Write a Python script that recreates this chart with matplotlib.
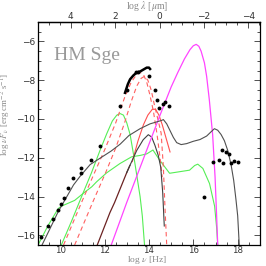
import numpy as np
import matplotlib
matplotlib.use('Agg')
import matplotlib.pyplot as plt
from matplotlib.ticker import MultipleLocator, FixedLocator, FuncFormatter

plt.rcParams['mathtext.fontset'] = 'stix'

# observed points (log nu [Hz], log nuFnu)
obs_nu = [9.14, 9.44, 9.69, 9.89, 10.02, 10.16, 10.35, 10.56, 10.94, 10.94, 11.37, 11.79,
          12.69, 13.02, 13.41, 13.52, 14.01, 14.27, 14.36, 14.46, 14.62, 14.72, 14.9,
          16.5, 16.88, 17.17, 17.29, 17.35, 17.47, 17.59, 17.69, 17.82, 18.01]
obs_f = [-16.09, -15.54, -15.14, -14.69, -14.38, -14.1, -13.55, -13.05, -12.78, -12.54, -12.14, -11.4,
         -9.34, -8.52, -7.57, -7.55, -7.8, -8.48, -9.0, -9.45, -9.22, -9.1, -9.35,
         -14.0, -12.23, -12.1, -11.62, -12.26, -11.71, -11.79, -12.28, -12.17, -12.23]

# thick observed near-IR spectrum
spec_nu = [12.92, 13.05, 13.15, 13.3, 13.45, 13.6, 13.75, 13.9, 14.0, 14.05]
spec_f = [-8.65, -8.2, -7.95, -7.75, -7.6, -7.55, -7.45, -7.35, -7.35, -7.42]

# total model
tot_nu = [9.18, 9.5, 9.9, 10.3, 10.6, 10.9, 11.35, 11.8, 12.3, 12.7, 13.1, 13.6, 14.05, 14.35,
          14.55, 14.65, 14.8, 14.95, 15.1, 15.25, 15.45, 15.7, 16.0, 16.3, 16.6, 16.8, 16.95,
          17.1, 17.25, 17.4, 17.55, 17.7, 17.82, 17.92, 18.0, 18.07]
tot_f = [-16.5, -15.75, -14.8, -14.0, -13.4, -12.95, -12.35, -12.02, -11.65, -11.3, -10.85, -10.5,
         -10.25, -10.15, -10.08, -10.03, -10.25, -10.6, -10.95, -11.22, -11.32, -11.27, -11.15,
         -11.06, -10.88, -10.66, -10.5, -10.58, -10.8, -11.12, -11.62, -12.35, -13.17, -14.14,
         -15.0, -16.5]

# hot component (magenta)
hot_nu = [12.3, 13.0, 13.5, 14.0, 14.5, 15.0, 15.3, 15.6, 15.85, 16.0, 16.13, 16.25, 16.35,
          16.5, 16.6, 16.72, 16.87, 16.98, 17.05, 17.1]
hot_f = [-16.5, -14.3, -12.8, -11.3, -9.8, -8.35, -7.6, -6.9, -6.42, -6.22, -6.15, -6.25, -6.5,
         -7.1, -7.8, -9.0, -10.8, -13.0, -15.0, -16.5]

# cool giant (brown rise, dark fall)
giant_nu = [11.67, 12.24, 12.45, 13.0, 13.14]
giant_f = [-16.5, -14.83, -14.31, -12.76, -12.4]
giant2_nu = [13.0, 13.14, 13.45, 13.74, 13.97, 14.12, 14.27, 14.42, 14.53, 14.62, 14.69]
giant2_f = [-12.76, -12.4, -11.62, -11.07, -10.81, -10.93, -11.36, -11.88, -12.49, -13.8, -15.52]

# dust shells (red dashed)
dustA_nu = [10.15, 11.0, 11.55, 12.0, 12.5, 12.9, 13.2, 13.45, 13.6, 13.75, 13.9, 14.05,
            14.2, 14.36, 14.5, 14.6]
dustA_f = [-16.5, -14.2, -12.76, -11.6, -10.2, -8.9, -8.1, -7.7, -7.6, -7.7, -8.1, -8.8,
           -9.6, -10.76, -12.0, -13.0]
dustB_nu = [10.65, 11.5, 12.05, 12.5, 12.9, 13.2, 13.45, 13.65, 13.8, 13.95, 14.1, 14.25,
            14.4, 14.55, 14.65, 14.72, 14.8]
dustB_f = [-16.5, -14.2, -12.76, -11.5, -10.2, -9.1, -8.3, -7.9, -7.8, -8.0, -8.5, -9.3,
           -10.0, -10.74, -12.5, -14.5, -16.5]

# red solid component
red_nu = [13.25, 13.5, 13.75, 13.95, 14.15, 14.3, 14.45, 14.6, 14.75, 14.95]
red_f = [-12.2, -11.15, -10.3, -9.8, -9.5, -9.5, -9.8, -10.3, -10.9, -11.7]

# warm dust (green peaked)
warm_nu = [10.05, 10.5, 11.0, 11.4, 11.8, 12.1, 12.35, 12.55, 12.7, 12.85, 13.0, 13.15,
           13.3, 13.45, 13.6, 13.7, 13.8]
warm_f = [-16.5, -15.3, -13.9, -12.8, -11.6, -10.75, -10.1, -9.8, -9.72, -9.8, -10.2, -10.8,
          -11.8, -12.9, -14.0, -15.0, -16.5]

# nebular continuum (green)
neb_nu = [9.0, 9.45, 9.91, 10.05, 10.65, 11.12, 11.42, 11.64, 12.09, 12.69, 13.22, 13.6, 13.9,
          14.18, 14.48, 14.93, 15.38, 15.83, 16.06, 16.2, 16.43, 16.73, 16.96, 17.05, 17.1]
neb_f = [-16.5, -15.5, -14.62, -14.5, -14.2, -13.76, -13.5, -13.24, -12.78, -12.3, -11.95,
         -11.88, -11.8, -11.6, -12.12, -12.8, -12.72, -12.64, -12.4, -12.33, -12.55, -13.33,
         -14.5, -15.6, -16.5]

lam_ticks = [4, 2, 0, -2, -4]
LOG_C = 14.477  # log c in micron/s

fig = plt.figure(figsize=(2.66, 2.66), dpi=100)
ax = fig.add_axes([0.143, 0.079, 0.834, 0.838])

ax.plot(neb_nu, neb_f, color='#55ee55', lw=0.8)
ax.plot(warm_nu, warm_f, color='#55ee55', lw=0.8)
ax.plot(dustA_nu, dustA_f, color='#ff6060', lw=0.8, ls=(0, (4, 3)))
ax.plot(dustB_nu, dustB_f, color='#ff6060', lw=0.8, ls=(0, (4, 3)))
ax.plot(red_nu, red_f, color='#ff5050', lw=0.8)
ax.plot(giant_nu, giant_f, color='#6b2222', lw=0.9)
ax.plot(giant2_nu, giant2_f, color='#404040', lw=0.8)
ax.plot(hot_nu, hot_f, color='#ff44ff', lw=0.9)
ax.plot(tot_nu, tot_f, color='#505050', lw=0.8)
ax.plot(spec_nu, spec_f, color='black', lw=1.8)
ax.plot(obs_nu, obs_f, 'o', color='black', ms=2.8, mew=0)

ax.set_xlim(9, 19)
ax.set_ylim(-16.5, -5)

minus = FuncFormatter(lambda v, p: ('%d' % v).replace('-', '\u2212'))
ax.xaxis.set_major_locator(MultipleLocator(2))
ax.xaxis.set_minor_locator(MultipleLocator(0.5))
ax.yaxis.set_major_locator(MultipleLocator(2))
ax.yaxis.set_minor_locator(MultipleLocator(0.5))
ax.yaxis.set_major_formatter(minus)
ax.tick_params(which='both', direction='in', right=True, top=False, labelsize=6.5,
               colors='#333333', width=0.6)
ax.tick_params(which='major', length=4.5, pad=2)
ax.tick_params(axis='x', which='major', pad=0.8, labelsize=6.2)
ax.tick_params(which='minor', length=2.5)
for s in ax.spines.values():
    s.set_linewidth(0.9)

sec = ax.secondary_xaxis('top', functions=(lambda x: LOG_C - x, lambda x: LOG_C - x))
sec.xaxis.set_major_locator(FixedLocator(lam_ticks))
sec.xaxis.set_minor_locator(FixedLocator(np.arange(-4.5, 5.6, 0.5)))
sec.xaxis.set_major_formatter(minus)
sec.tick_params(which='both', direction='in', labelsize=6.5, colors='#333333', width=0.6)
sec.tick_params(which='major', length=4.5, pad=1)
sec.tick_params(which='minor', length=2.5)
sec.spines['top'].set_linewidth(0.9)

serif = 'Liberation Serif'
fig.text(0.553, 0.0, r'log $\nu$ [Hz]', fontsize=6.8, color='#888888', family=serif,
         ha='center', va='bottom')
fig.text(0.553, 0.978, r'log $\lambda$ [$\mu$m]', fontsize=7, color='#888888', family=serif,
         ha='center', va='center')
fig.text(0.024, 0.57, r'log $\nu F_\nu$ [erg cm$^{-2}$ s$^{-1}$]', fontsize=6.5,
         color='#888888', family=serif, rotation=90, ha='center', va='center')

ax.text(0.07, 0.83, 'HM Sge', transform=ax.transAxes, fontsize=14, color='#999999',
        family=serif)

fig.savefig('out.png', dpi=100)
